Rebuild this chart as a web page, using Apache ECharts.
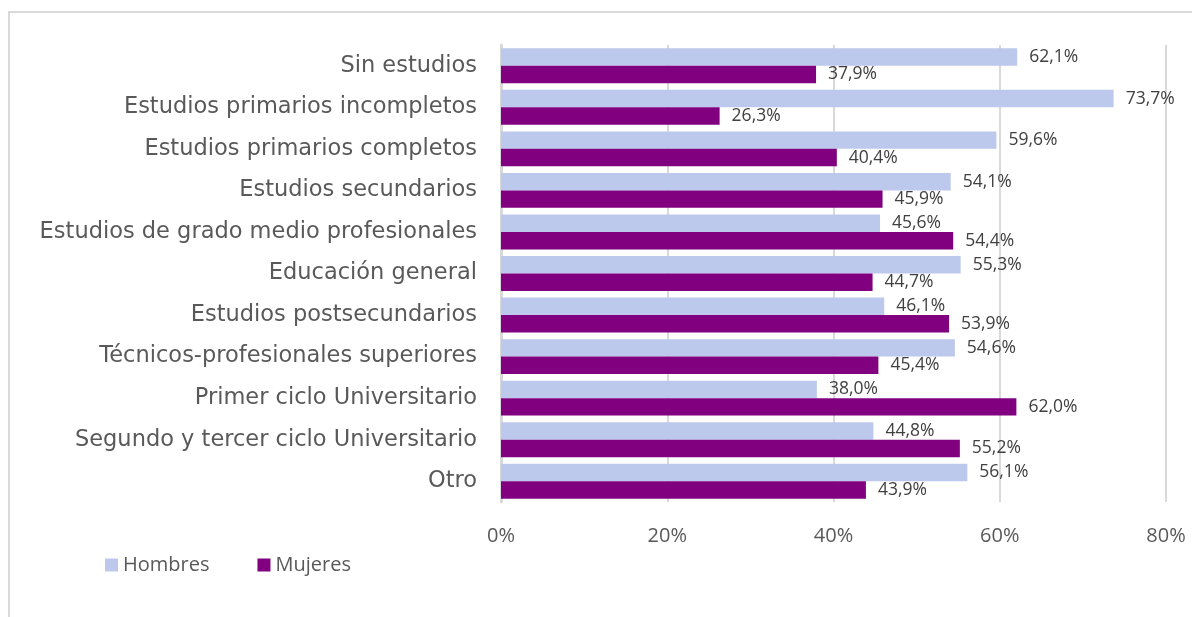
<!DOCTYPE html>
<html>
<head>
<meta charset="utf-8">
<script src="https://cdn.jsdelivr.net/npm/echarts@6/dist/echarts.min.js"></script>
<style>
  html, body { margin: 0; padding: 0; background: #fff; }
  #frame {
    position: absolute; left: 8px; top: 11px; width: 1184px; height: 606px;
    border-top: 2px solid #d9d9d9; border-left: 2px solid #d9d9d9;
    box-sizing: border-box;
  }
  #chart { position: absolute; left: 0; top: 0; width: 1192px; height: 617px; }
</style>
</head>
<body>
<div id="frame"></div>
<div id="chart"></div>
<script>
// categories, top to bottom
const categories = [
  'Sin estudios',
  'Estudios primarios incompletos',
  'Estudios primarios completos',
  'Estudios secundarios',
  'Estudios de grado medio profesionales',
  'Educación general',
  'Estudios postsecundarios',
  'Técnicos-profesionales superiores',
  'Primer ciclo Universitario',
  'Segundo y tercer ciclo Universitario',
  'Otro'
];
const hombres = [62.1, 73.7, 59.6, 54.1, 45.6, 55.3, 46.1, 54.6, 38.0, 44.8, 56.1];
const mujeres = [37.9, 26.3, 40.4, 45.9, 54.4, 44.7, 53.9, 45.4, 62.0, 55.2, 43.9];
const xTicks = [0, 20, 40, 60, 80];

const fmt = v => v.toFixed(1).replace('.', ',') + '%';

const chart = echarts.init(document.getElementById('chart'));
const option = {
  animation: false,
  grid: { left: 501, right: 26, top: 45, bottom: 115 },
  legend: {
    left: 100, top: 550,
    itemWidth: 13, itemHeight: 13, itemGap: 48,
    icon: 'rect',
    textStyle: { fontFamily: 'Open Sans', fontSize: 20, color: '#595959' },
    data: ['Hombres', 'Mujeres']
  },
  xAxis: {
    type: 'value',
    min: xTicks[0], max: xTicks[xTicks.length - 1], interval: 20,
    axisLine: { show: false },
    axisTick: { show: false },
    splitLine: { lineStyle: { color: '#d9d9d9', width: 2 } },
    axisLabel: {
      formatter: '{value}%', margin: 24,
      fontFamily: 'Open Sans', fontSize: 20, color: '#595959'
    }
  },
  yAxis: {
    type: 'category', inverse: true, data: categories,
    axisLine: { lineStyle: { color: '#d9d9d9', width: 3 } },
    axisTick: { show: false },
    axisLabel: {
      margin: 24, fontFamily: 'DejaVu Sans', fontSize: 22.5, color: '#595959'
    }
  },
  series: [
    {
      name: 'Hombres', type: 'bar', data: hombres,
      barGap: '0%', barCategoryGap: '16%',
      itemStyle: { color: '#bdc9ec' },
      label: {
        show: true, position: 'right', distance: 12,
        formatter: p => fmt(p.value),
        fontFamily: 'Open Sans', fontSize: 17.5, color: '#404040'
      }
    },
    {
      name: 'Mujeres', type: 'bar', data: mujeres,
      itemStyle: { color: '#800080' },
      label: {
        show: true, position: 'right', distance: 12,
        formatter: p => fmt(p.value),
        fontFamily: 'Open Sans', fontSize: 17.5, color: '#404040'
      }
    }
  ]
};
chart.setOption(option);
</script>
</body>
</html>
